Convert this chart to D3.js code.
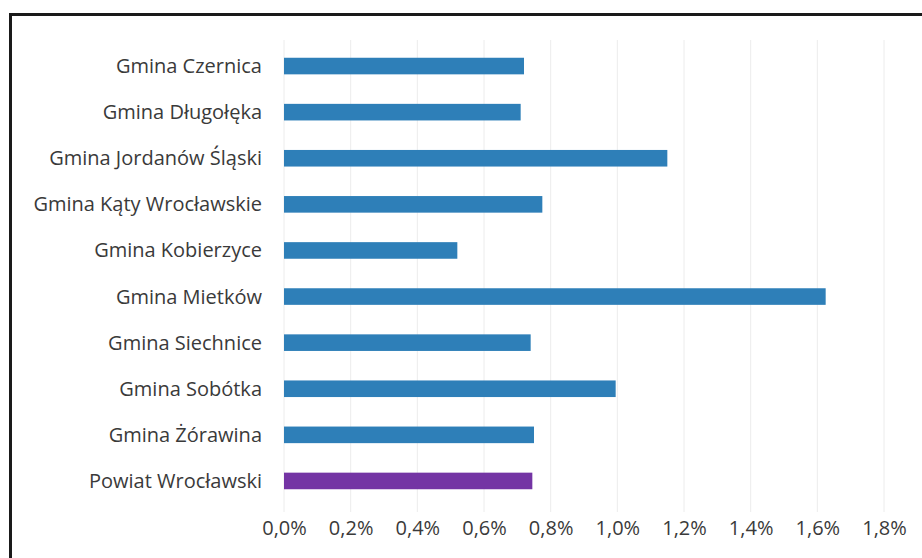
<!DOCTYPE html>
<html>
<head>
  <meta charset="utf-8">
  <title>Gminy</title>
  <script src="https://d3js.org/d3.v7.min.js"></script>
  <style>
    body { margin: 0; background: #fff; }
  </style>
</head>
<body>
<div id="chart"></div>
<script type="text/javascript">
  let w = 922;
  let h = 558;

  let categories = ['Gmina Czernica', 'Gmina Długołęka', 'Gmina Jordanów Śląski',
                    'Gmina Kąty Wrocławskie', 'Gmina Kobierzyce', 'Gmina Mietków',
                    'Gmina Siechnice', 'Gmina Sobótka', 'Gmina Żórawina', 'Powiat Wrocławski'];
  let values = [0.72, 0.71, 1.15, 0.775, 0.52, 1.625, 0.74, 0.995, 0.75, 0.745];
  let ticks = [0, 0.2, 0.4, 0.6, 0.8, 1.0, 1.2, 1.4, 1.6, 1.8];

  let margin = {left: 284, right: 38, top: 43, bottom: 54};

  let xScale = d3.scaleLinear()
                .domain([0, 1.8])
                .range([margin.left, w - margin.right]);

  let yScale = d3.scaleBand()
                .domain(categories)
                .range([margin.top, h - margin.bottom])
                .paddingInner(0.64)
                .paddingOuter(0.32);

  let svg = d3.select('#chart')
              .append('svg')
              .attr('width', w)
              .attr('height', h);

  // ramka
  svg.append('rect')
     .attr('x', 10.5).attr('y', 14.5)
     .attr('width', w).attr('height', h)
     .attr('fill', 'none')
     .attr('stroke', '#1a1a1a')
     .attr('stroke-width', 3);

  // siatka
  svg.append('g')
     .selectAll('line')
     .data(ticks)
     .enter()
     .append('line')
     .attr('x1', d => xScale(d)).attr('x2', d => xScale(d))
     .attr('y1', 40).attr('y2', 512)
     .attr('stroke', '#ececec')
     .attr('stroke-width', 1);

  // slupki
  svg.selectAll('rect.bar')
     .data(categories)
     .enter()
     .append('rect')
     .attr('class', 'bar')
     .attr('x', xScale(0))
     .attr('y', d => yScale(d))
     .attr('width', (d, i) => xScale(values[i]) - xScale(0))
     .attr('height', yScale.bandwidth())
     .attr('fill', (d, i) => i === categories.length - 1 ? '#7434a4' : '#2e7fb8');

  // etykiety kategorii
  svg.selectAll('text.cat')
     .data(categories)
     .enter()
     .append('text')
     .attr('class', 'cat')
     .attr('x', 262)
     .attr('y', d => yScale(d) + yScale.bandwidth() / 2)
     .attr('dy', '0.35em')
     .attr('text-anchor', 'end')
     .attr('font-family', 'Open Sans, sans-serif')
     .attr('font-size', '20px')
     .attr('fill', '#3a3a3a')
     .text(d => d);

  // os X
  let xAxis = d3.axisBottom(xScale)
                .tickValues(ticks)
                .tickSize(0)
                .tickPadding(0)
                .tickFormat(d => d.toFixed(1).replace('.', ',') + '%');

  let gx = svg.append('g')
              .attr('transform', 'translate(0,' + 521 + ')')
              .call(xAxis);
  gx.select('.domain').remove();
  gx.selectAll('text')
    .attr('font-family', 'Open Sans, sans-serif')
    .attr('font-size', '20px')
    .attr('fill', '#3a3a3a');
</script>
</body>
</html>
